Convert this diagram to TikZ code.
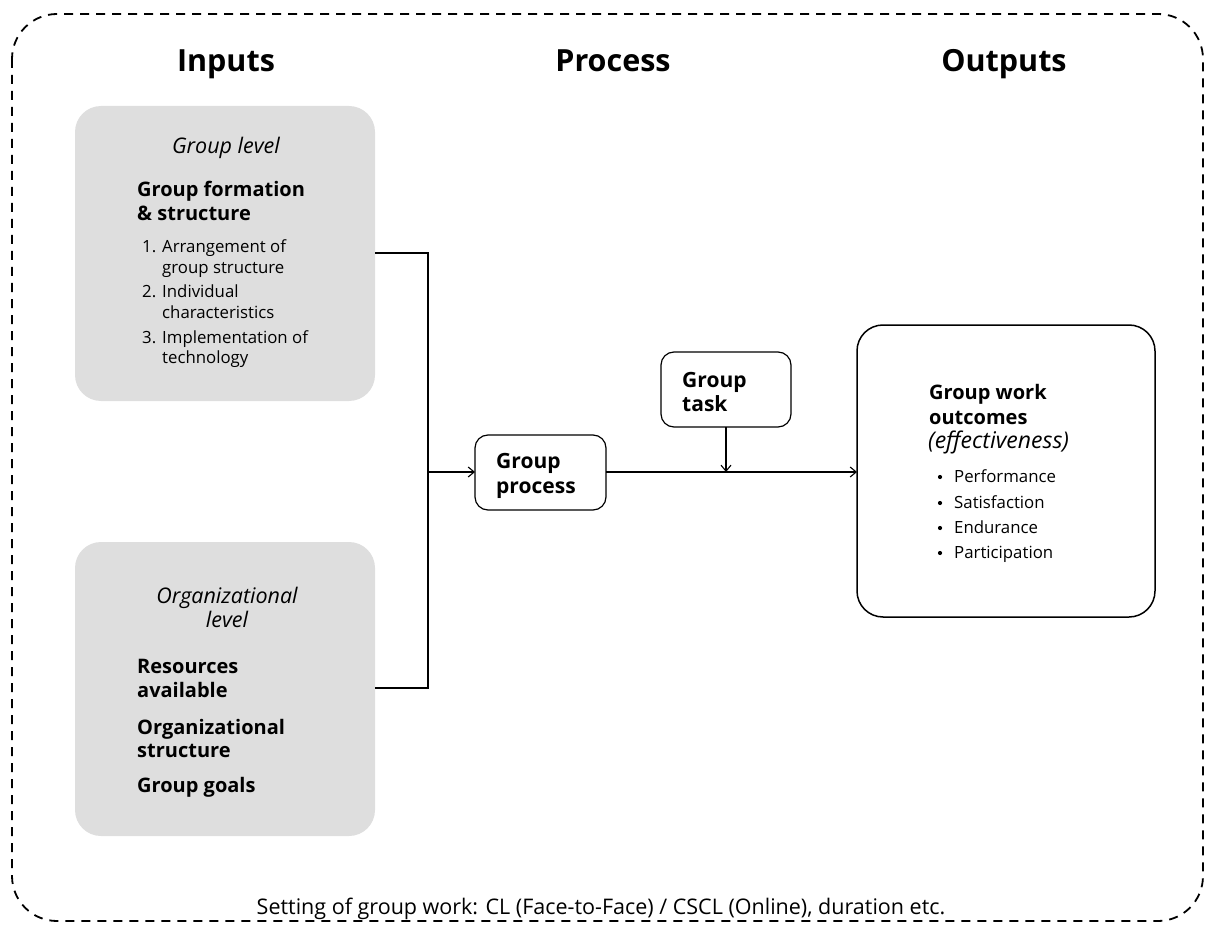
\documentclass[tikz,border=0pt]{standalone}
\usepackage{fontspec}
\setmainfont{Open Sans}
\usetikzlibrary{arrows.meta}
\definecolor{boxgray}{HTML}{DEDEDE}
\begin{document}
\begin{tikzpicture}[x=1pt,y=-1pt,
  head/.style={font=\fontsize{30.5}{36}\selectfont\bfseries, anchor=base, inner sep=0},
  bt/.style={font=\fontsize{20}{24}\selectfont\bfseries, anchor=base west, inner sep=0},
  btp/.style={font=\fontsize{21}{24}\selectfont\bfseries, anchor=base west, inner sep=0},
  it/.style={font=\fontsize{21.5}{24}\selectfont\itshape, anchor=base, inner sep=0},
  itl/.style={font=\fontsize{23}{24}\selectfont\itshape, anchor=base west, inner sep=0},
  st/.style={font=\fontsize{16.8}{19}\selectfont, anchor=base west, inner sep=0},
  graybox/.style={fill=boxgray, rounded corners=26pt},
  wbox/.style={draw, line width=1.2pt, rounded corners=13pt},
  conn/.style={line width=1.1pt},
  arr/.style={line width=1.1pt, -{Straight Barb[length=6pt,width=10pt]}}
]
\useasboundingbox (0,0) rectangle (1208,928);
% outer dashed frame
\draw[line width=1.8pt, dash pattern=on 9pt off 7pt, rounded corners=45pt] (12,14) rectangle (1203,921);

% headings
\node[head] (hin) at (226,72) {Inputs};
\node[head] (hpr) at (613,72) {Process};
\node[head] (hout) at (1004,72) {Outputs};

% gray input boxes
\path[graybox] (75,106) rectangle (375,401);
\path[graybox] (75,542) rectangle (375,836);
\coordinate (b1r) at (375,253);
\coordinate (b2r) at (375,688);
\coordinate (j1) at (428,253);
\coordinate (j2) at (428,688);
\coordinate (jm) at (428,472);

% box 1 text
\node[it] (gl) at (226,154) {Group level};
\node[bt] (gf1) at (137,197) {Group formation};
\node[bt] (gf2) at (137,221) {\& structure};
\node[st] (n1) at (142,253) {1.};
\node[st] (l1a) at (162,253) {Arrangement of};
\node[st] (l1b) at (162,273) {group structure};
\node[st] (n2) at (142,298) {2.};
\node[st] (l2a) at (162,298) {Individual};
\node[st] (l2b) at (162,318) {characteristics};
\node[st] (n3) at (142,343) {3.};
\node[st] (l3a) at (162,343) {Implementation of};
\node[st] (l3b) at (162,363) {technology};

% box 2 text
\node[it] (ol1) at (227,603) {Organizational};
\node[it] (ol2) at (227,627) {level};
\node[bt] (r1) at (137,673) {Resources};
\node[bt] (r2) at (137,697) {available};
\node[bt] (os1) at (137,734) {Organizational};
\node[bt] (os2) at (137,757) {structure};
\node[bt] (gg) at (137,792) {Group goals};

% process boxes
\draw[wbox] (475,435) rectangle (606,510);
\coordinate (gpl) at (475,472);
\coordinate (gpr) at (606,472);
\node[btp] (gp1) at (496,468) {Group};
\node[btp] (gp2) at (496,493) {process};

\draw[wbox] (661,352) rectangle (791,427);
\coordinate (gtb) at (726,427);
\coordinate (gtj) at (726,472);
\node[btp] (gt1) at (682,387) {Group};
\node[btp] (gt2) at (682,411) {task};

% outputs box
\draw[draw, line width=1.5pt, rounded corners=26pt] (857,325) rectangle (1155,617);
\coordinate (obl) at (857,472);
\node[bt] (o1) at (929,399) {Group work};
\node[bt] (o2) at (929,424) {outcomes};
\node[itl] (o3) at (928,448) {(effectiveness)};
\foreach \t/\yy [count=\i] in {Performance/482, Satisfaction/508, Endurance/533, Participation/558}{
  \fill (940,\yy-5) circle (2.1pt);
  \node[st] (ob\i) at (954,\yy) {\t};
}

% connectors
\draw[conn] (b1r) -- (j1) -- (j2) -- (b2r);
\draw[arr] (jm) -- (gpl);
\draw[arr] (gpr) -- (obl);
\draw[arr] (gtb) -- (gtj);

% bottom text
\node[font=\fontsize{21.5}{24}\selectfont, anchor=base, inner sep=0] (set) at (601,914) {Setting of group work: CL (Face-to-Face) / CSCL (Online), duration etc.};
\end{tikzpicture}
\end{document}
